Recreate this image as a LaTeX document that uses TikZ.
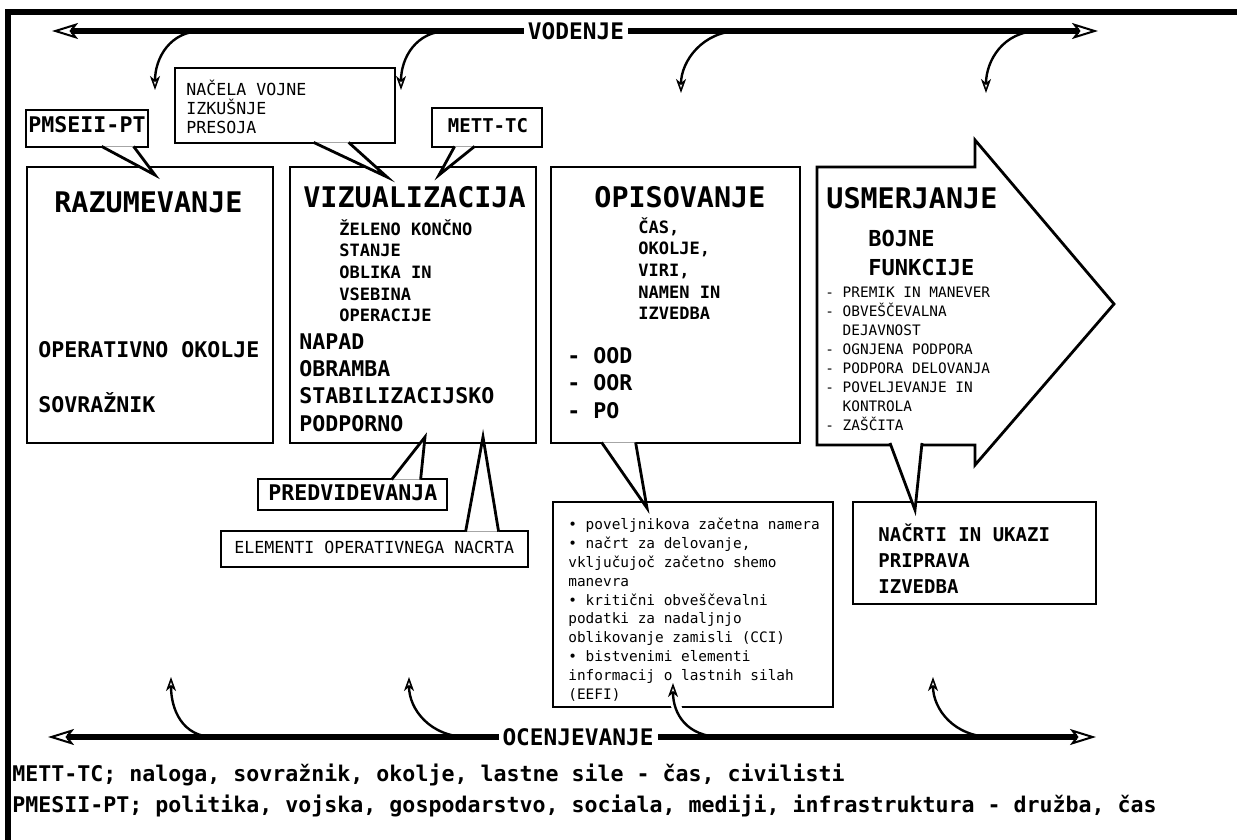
\documentclass[tikz,border=0pt]{standalone}
\usepackage{fontspec}
\setmonofont{DejaVu Sans Mono}
\usetikzlibrary{arrows.meta,calc,fit}
\newcommand{\fsz}[2]{\ttfamily\fontsize{#1}{#2}\selectfont}

\begin{document}
\begin{tikzpicture}[x=0.5pt,y=-0.5pt,
    box/.style={draw,line width=1.4pt,fill=white,inner sep=0pt},
    tail/.style={draw,line width=1.4pt,fill=white},
    tx/.style={inner sep=0pt,anchor=base west},
    txb/.style={inner sep=0pt,anchor=north west,align=left},
    hd/.style={tx,font=\fsz{14.2}{17}\bfseries},
    bg/.style={font=\fsz{10.8}{13.7}\bfseries},
    sm/.style={font=\fsz{8.5}{10.85}\bfseries},
    main/.style={line width=3pt,arrows={Stealth[open,length=13pt,width=8pt,inset=3pt,line width=1pt]-Stealth[open,length=13pt,width=8pt,inset=3pt,line width=1pt]}},
    curl/.style={line width=1.2pt,arrows={-Stealth[open,length=7pt,width=5pt,inset=2pt,line width=0.8pt]}},
    lbl/.style={fill=white,inner xsep=2pt,inner ysep=1pt,font=\fsz{11.4}{13}\bfseries}]
  \useasboundingbox (0,0) rectangle (1237,840);
  % frame
  \fill (5,9) rectangle (1237,15);
  \fill (5,9) rectangle (11,840);

  % main boxes
  \node[box,fit={(27,167) (273,443)}] (raz) {};
  \node[box,fit={(290,167) (536,443)}] (viz) {};
  \node[box,fit={(551,167) (800,443)}] (opis) {};
  \coordinate (usmsw) at (817,445);
  \draw[box] (817,167) -- (975,167) -- (975,140) -- (1114,304) -- (975,465) -- (975,445) -- (usmsw) -- cycle;

  % callout boxes
  \node[box,fit={(26,110) (148,147)}] (pms) {};
  \node[box,fit={(175,68) (395,143)}] (nac) {};
  \node[box,fit={(432,108) (542,147)}] (mett) {};
  \node[box,fit={(258,479) (447,510)}] (pred) {};
  \node[box,fit={(221,531) (528,567)}] (elem) {};
  \node[box,fit={(553,502) (833,707)}] (cci) {};
  \node[box,fit={(853,502) (1096,604)}] (ukaz) {};

  % tails
  \coordinate (t1) at (155,175);
  \coordinate (t2) at (387,177);
  \coordinate (t3) at (439,175);
  \coordinate (t4) at (425,437);
  \coordinate (t5) at (483,437);
  \coordinate (t6) at (647,508);
  \coordinate (t7) at (915,510);
  \path[tail] ($(pms.south west)+(77,-2)$) -- (t1) -- ($(pms.south west)+(109,-2)$);
  \path[tail] ($(nac.south west)+(140,-2)$) -- (t2) -- ($(nac.south west)+(175,-2)$);
  \path[tail] ($(mett.south west)+(24,-2)$) -- (t3) -- ($(mett.south west)+(44,-2)$);
  \path[tail] ($(pred.north west)+(135,2)$) -- (t4) -- ($(pred.north west)+(164,2)$);
  \path[tail] ($(elem.north west)+(246,2)$) -- (t5) -- ($(elem.north west)+(279,2)$);
  \path[tail] ($(opis.south west)+(52,-2)$) -- (t6) -- ($(opis.south west)+(86,-2)$);
  \path[tail] ($(usmsw)+(73,-2)$) -- (t7) -- ($(usmsw)+(105,-2)$);

  % curls
  \coordinate (vl) at (52,31);
  \coordinate (vr) at (1098,31);
  \coordinate (ol) at (48,737);
  \coordinate (or) at (1096,737);
  \coordinate (c1s) at (202,31);  \coordinate (c1e) at (155,90);
  \coordinate (c2s) at (448,31);  \coordinate (c2e) at (401,90);
  \coordinate (c3s) at (739,31);  \coordinate (c3e) at (681,93);
  \coordinate (c4s) at (1039,31); \coordinate (c4e) at (986,93);
  \coordinate (d1s) at (214,737); \coordinate (d1e) at (171,677);
  \coordinate (d2s) at (468,737); \coordinate (d2e) at (409,677);
  \coordinate (d3s) at (722,737); \coordinate (d3e) at (673,683);
  \coordinate (d4s) at (992,737); \coordinate (d4e) at (933,677);
  \draw[curl] (c1s) .. controls +(-32,0) and +(0,-32) .. (c1e);
  \draw[curl] (c2s) .. controls +(-32,0) and +(0,-32) .. (c2e);
  \draw[curl] (c3s) .. controls +(-36,0) and +(0,-32) .. (c3e);
  \draw[curl] (c4s) .. controls +(-36,0) and +(0,-32) .. (c4e);
  \draw[curl] (d1s) .. controls +(-32,0) and +(0,32) .. (d1e);
  \draw[curl] (d2s) .. controls +(-38,0) and +(0,32) .. (d2e);
  \draw[curl,preaction={draw=white,line width=5pt,-}] (d3s) .. controls +(-36,0) and +(0,30) .. (d3e);
  \draw[curl] (d4s) .. controls +(-38,0) and +(0,32) .. (d4e);

  % box texts
  \node[hd] (razt) at (54,213) {RAZUMEVANJE};
  \node[tx,bg] (okolje) at (38,357) {OPERATIVNO OKOLJE};
  \node[tx,bg] (sovr) at (38,412) {SOVRAŽNIK};
  \node[hd] (vizt) at (303,207) {VIZUALIZACIJA};
  \node[txb,sm] (vizs) at (339,219) {ŽELENO KONČNO\\STANJE\\OBLIKA IN\\VSEBINA\\OPERACIJE};
  \node[txb,bg] (vizo) at (299,333) {NAPAD\\OBRAMBA\\STABILIZACIJSKO\\PODPORNO};
  \node[hd] (opist) at (594,207) {OPISOVANJE};
  \node[txb,sm] (opiss) at (638,217) {ČAS,\\OKOLJE,\\VIRI,\\NAMEN IN\\IZVEDBA};
  \node[txb,bg] (opiso) at (567,347) {- OOD\\- OOR\\- PO};
  \node[hd] (usmt) at (826,208) {USMERJANJE};
  \node[txb,font=\fsz{11}{14.5}\bfseries] (bojne) at (868,230) {BOJNE\\FUNKCIJE};
  \node[txb,font=\fsz{7.2}{9.45}] (funk) at (825,287) {- PREMIK IN MANEVER\\- OBVEŠČEVALNA\\\hspace*{1.2em}DEJAVNOST\\- OGNJENA PODPORA\\- PODPORA DELOVANJA\\- POVELJEVANJE IN\\\hspace*{1.2em}KONTROLA\\- ZAŠČITA};

  % callout texts
  \node[tx,anchor=base,font=\fsz{10.8}{13}\bfseries] (pmst) at (87,133) {PMSEII-PT};
  \node[tx,anchor=base,font=\fsz{9.5}{12}\bfseries] (mettt) at (488,133) {METT-TC};
  \node[txb,font=\fsz{8.3}{9.5}] (nact) at (186,80) {NAČELA VOJNE\\IZKUŠNJE\\PRESOJA};
  \node[tx,bg] (predt) at (268,500) {PREDVIDEVANJA};
  \node[tx,font=\fsz{8.3}{10}] (elemt) at (234,553) {ELEMENTI OPERATIVNEGA NACRTA};
  \node[txb,font=\fsz{7.2}{9.4}] (ccit) at (568,518) {• poveljnikova začetna namera\\• načrt za delovanje,\\vključujoč začetno shemo\\manevra\\• kritični obveščevalni\\podatki za nadaljnjo\\oblikovanje zamisli (CCI)\\• bistvenimi elementi\\informacij o lastnih silah\\(EEFI)};
  \node[txb,font=\fsz{9.5}{13}\bfseries] (ukazt) at (878,523) {NAČRTI IN UKAZI\\PRIPRAVA\\IZVEDBA};

  % vodenje / ocenjevanje
  \draw[main] (vl) -- (vr);
  \node[lbl] (vod) at (576,31) {VODENJE};
  \draw[main] (ol) -- (or);
  \node[lbl] (ocen) at (578,737) {OCENJEVANJE};

  % legend
  \node[tx,bg] (mettl) at (12,781) {METT-TC; naloga, sovražnik, okolje, lastne sile - čas, civilisti};
  \node[tx,bg] (pmesl) at (12,812) {PMESII-PT; politika, vojska, gospodarstvo, sociala, mediji, infrastruktura - družba, čas};
\end{tikzpicture}
\end{document}
